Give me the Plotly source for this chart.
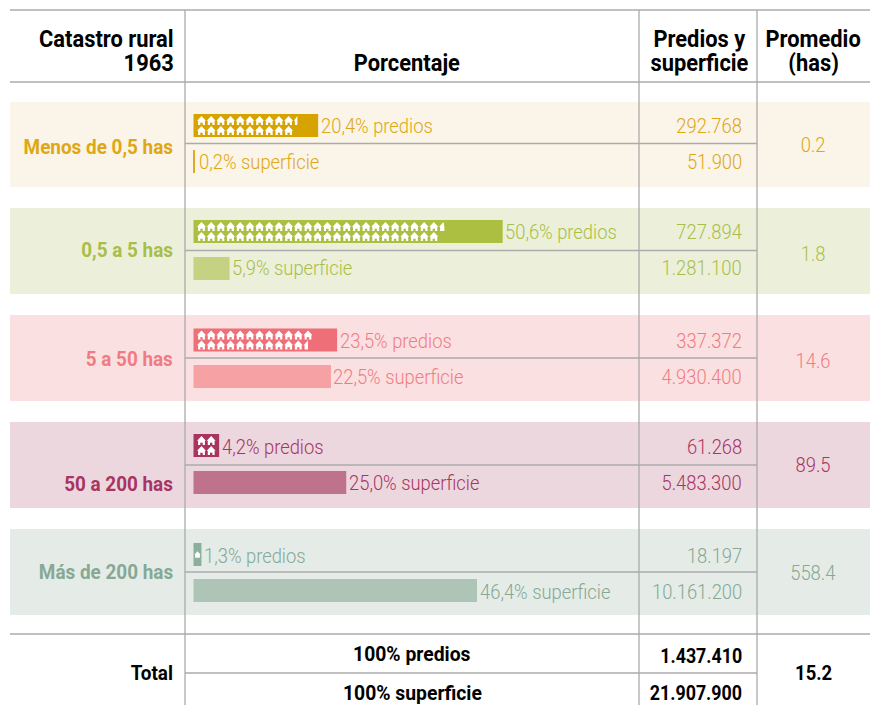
import json
import plotly.graph_objects as go

# ---------- data ----------
categories = ["Menos de 0,5 has", "0,5 a 5 has", "5 a 50 has", "50 a 200 has", "Más de 200 has"]
pct_predios = [20.4, 50.6, 23.5, 4.2, 1.3]
pct_superficie = [0.2, 5.9, 22.5, 25.0, 46.4]
label_predios = ["20,4% predios", "50,6% predios", "23,5% predios", "4,2% predios", "1,3% predios"]
label_superficie = ["0,2% superficie", "5,9% superficie", "22,5% superficie", "25,0% superficie", "46,4% superficie"]
num_predios = ["292.768", "727.894", "337.372", "61.268", "18.197"]
num_superficie = ["51.900", "1.281.100", "4.930.400", "5.483.300", "10.161.200"]
promedio = ["0.2", "1.8", "14.6", "89.5", "558.4"]
total_labels = ["100% predios", "100% superficie"]
total_values = ["1.437.410", "21.907.900"]
total_promedio = "15.2"

# ---------- styles / layout (pixels on the y axis, percent on the x axis) ----------
W, H = 870, 705
X0 = 193.5
PX = 6.11
band_bg = ["#FBF4E8", "#ECF0DA", "#FBE0E1", "#ECD7DF", "#E5ECE7"]
bar1_col = ["#D6A300", "#ACBF40", "#EE6F77", "#A9345F", "#8AAF9C"]
bar2_col = ["#DDA92A", "#C4D282", "#F6A1A3", "#BF728B", "#AEC4B6"]
txt_col = ["#DDA715", "#A9BE48", "#F07C83", "#A83460", "#86A895"]
band_top = [102, 208, 315, 422, 529]
band_bot = [187, 294, 401, 508, 615]
mid_y = [143.5, 250.5, 358, 465, 572]
bar1_y = [125.5, 231.5, 340, 445.5, 554.5]
bar2_y = [161.5, 268.5, 376.5, 482.5, 590.5]
text1_y = [126, 232, 341, 447, 556]
text2_y = [162, 268, 377, 483, 592]
cat_y = [147, 250, 359, 484, 572]
prom_y = [145, 254, 361, 465, 573]
BAR_H = 23
FONT = "Roboto"
GRID = "#ABABAB"
FS = 21
FSB = 21


def xv(px):
    return (px - X0) / PX


fig = go.Figure()

# bars
fig.add_trace(go.Bar(y=bar1_y, x=pct_predios, orientation="h", width=BAR_H, base=0,
                     marker=dict(color=bar1_col, line=dict(width=0)), hoverinfo="skip"))
fig.add_trace(go.Bar(y=bar2_y, x=pct_superficie, orientation="h", width=BAR_H, base=0,
                     marker=dict(color=bar2_col, line=dict(width=0)), hoverinfo="skip"))


# house pictogram: one house = 1 % of predios, filled top/bottom alternately
def house(cx, cy, frac=1.0):
    w, h = 4.45, 4.6
    xs = [cx - w, cx, cx + w, cx + 3.4, cx + 3.4, cx - 3.4, cx - 3.4, cx - w]
    ys = [cy + 0.3, cy - h, cy + 0.3, cy + 0.3, cy + h, cy + h, cy + 0.3, cy + 0.3]
    if frac < 1:
        lim = cx - w + 2 * w * frac
        xs = [min(x, lim) for x in xs]
    return xs, ys


STEP = 9.68
for i, p in enumerate(pct_predios):
    hx, hy, dx, dy = [], [], [], []
    whole = int(p)
    frac = p - whole
    single = whole == 1
    slots = [(n // 2, n % 2) for n in range(whole + 1)]
    for n, (col, row) in enumerate(slots):
        f = 1.0 if n < whole else frac
        if f < 0.3:
            continue
        cx = (X0 + 8 if not single else X0 + 4) + col * STEP
        cy = bar1_y[i] if single else bar1_y[i] + (-5.0 if row == 0 else 5.0)
        if single:
            a, b = house(cx, cy, 1.0)
            a = [cx + (v - cx) * 0.7 for v in a]
            b = [cy + (v - cy) * 0.7 for v in b]
        else:
            a, b = house(cx, cy, f)
        hx += [xv(v) for v in a] + [None]
        hy += b + [None]
        if f == 1.0 and not single:
            dx.append(xv(cx))
            dy.append(cy + 3.4)
    fig.add_trace(go.Scatter(x=hx, y=hy, mode="lines", fill="toself", fillcolor="white",
                             line=dict(width=0, color="white"), hoverinfo="skip"))
    if dx:
        fig.add_trace(go.Scatter(x=dx, y=dy, mode="markers", hoverinfo="skip",
                                 marker=dict(symbol="square", size=2.4, color=bar1_col[i], line=dict(width=0))))

shapes = []
for i in range(5):
    shapes.append(dict(type="rect", xref="paper", yref="y", x0=10 / W, x1=1, y0=band_top[i], y1=band_bot[i],
                       fillcolor=band_bg[i], line=dict(width=0), layer="below"))


def hline(y, a, b):
    shapes.append(dict(type="line", xref="paper", yref="y", x0=a / W, x1=b / W, y0=y, y1=y,
                       line=dict(color=GRID, width=1.3), layer="above"))


def vline(x, a, b):
    shapes.append(dict(type="line", xref="paper", yref="y", x0=x / W, x1=x / W, y0=a, y1=b,
                       line=dict(color=GRID, width=1.3), layer="above"))


for y in (10, 82, 634):
    hline(y, 10, 870)
for y in mid_y:
    hline(y, 185, 757)
hline(673, 185, 757)
for x in (185, 639, 757):
    vline(x, 10, 705)

ann = []
cond = []


def t(x, y, s, color="#000000", anchor="left", size=FS, bold=False, ratio=0.875, box=None):
    nudge = {"left": -1, "right": 2, "center": 0}[anchor]
    a = dict(xref="paper", yref="y", x=(x + nudge) / W, y=y, text=s,
             showarrow=False, xanchor=anchor, yanchor="middle", align=anchor,
             font=dict(family=FONT, size=size, color=color, weight=700 if bold else 300))
    if box:
        a.update(height=box, borderpad=0, valign="middle")
    ann.append(a)
    cond.append(ratio)


HEAD = dict(size=23, bold=True, ratio=0.95, box=23.5)
t(173, 40, "Catastro rural", anchor="right", **HEAD)
t(173, 64, "1963", anchor="right", **HEAD)
t(407, 64, "Porcentaje", anchor="center", **HEAD)
t(699.5, 40, "Predios y", anchor="center", **HEAD)
t(699.5, 64, "superficie", anchor="center", **HEAD)
t(813, 40, "Promedio", anchor="center", **HEAD)
t(813, 64, "(has)", anchor="center", **HEAD)

for i in range(5):
    c = txt_col[i]
    t(173, cat_y[i], categories[i], c, "right", FSB, True, 0.90)
    t(X0 + PX * pct_predios[i] + 1.5, text1_y[i], label_predios[i], c)
    t(X0 + PX * pct_superficie[i] + (3 if pct_superficie[i] < 1 else 1.5), text2_y[i], label_superficie[i], c)
    t(742, text1_y[i], num_predios[i], c, "right")
    t(742, text2_y[i], num_superficie[i], c, "right")
    t(813, prom_y[i], promedio[i], c, "center")

t(173, 673, "Total", anchor="right", size=FSB, bold=True, ratio=0.90)
t(412, 654, total_labels[0], anchor="center", size=FSB, bold=True, ratio=0.92)
t(412, 693, total_labels[1], anchor="center", size=FSB, bold=True, ratio=0.92)
t(742, 656, total_values[0], anchor="right", size=20.5, bold=True, ratio=0.87)
t(742, 693, total_values[1], anchor="right", size=20.5, bold=True, ratio=0.87)
t(813, 673, total_promedio, anchor="center", size=20.5, bold=True, ratio=0.90)

fig.update_layout(
    width=W, height=H, margin=dict(l=0, r=0, t=0, b=0), showlegend=False,
    paper_bgcolor="white", plot_bgcolor="rgba(0,0,0,0)", barmode="overlay",
    xaxis=dict(range=[xv(0), xv(W)], visible=False, fixedrange=True),
    yaxis=dict(range=[H, 0], visible=False, fixedrange=True),
    shapes=shapes, annotations=ann,
)

# page without body margin; texts condensed to the narrow look of the reference
POST = """
document.body.style.margin = '0';
var ratios = %s;
document.querySelectorAll('.annotation-text').forEach(function (el, k) {
  var len = el.getComputedTextLength();
  el.setAttribute('textLength', (len * ratios[k]).toFixed(1));
  el.setAttribute('lengthAdjust', 'spacingAndGlyphs');
});
""" % json.dumps(cond)
fig.write_html("out.html", config={"displayModeBar": False}, post_script=POST)
